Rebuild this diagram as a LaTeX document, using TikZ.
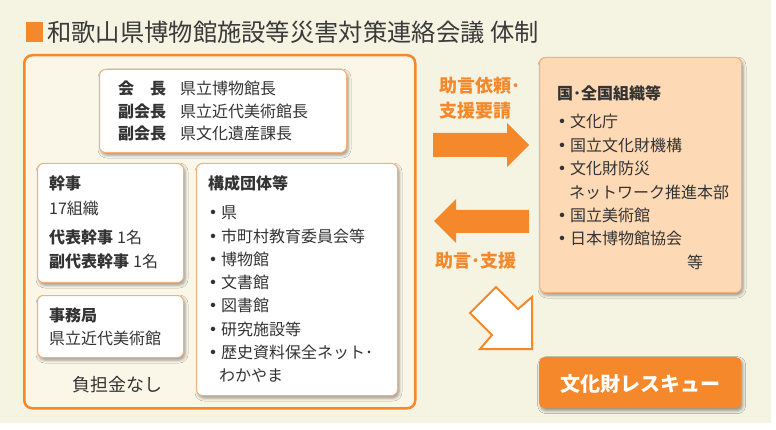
\documentclass[tikz,border=0pt]{standalone}
\usepackage{fontspec}
\setmainfont{Noto Sans CJK JP}
\usetikzlibrary{shadows.blur}
\definecolor{bg}{HTML}{F5F3E1}
\definecolor{inbg}{HTML}{FAF7E8}
\definecolor{org}{HTML}{F5882A}
\definecolor{lorg}{HTML}{F7B07A}
\definecolor{peach}{HTML}{FDD9B5}
\definecolor{txt}{HTML}{333333}
\definecolor{ttl}{HTML}{3A3A3A}
\newcommand\mybul{{\bfseries ・}}
\tikzset{
  shad/.style={blur shadow={shadow xshift=1.5pt, shadow yshift=-2.5pt, shadow blur radius=3pt, shadow opacity=40}},
  box/.style={draw=lorg, line width=1pt, fill=white, rounded corners=6pt, anchor=north west, inner sep=0pt, shad},
  t/.style={anchor=west, inner sep=0pt, text=txt, font=\fontsize{16}{16}\selectfont},
  tb/.style={t, font=\fontsize{16}{16}\selectfont\bfseries},
  lab/.style={anchor=west, inner sep=0pt, text=org, font=\fontsize{18}{18}\selectfont\bfseries},
  blockarrow/.style={fill=org, draw=none},
}
\begin{document}
\begin{tikzpicture}[x=1pt,y=-1pt]
\useasboundingbox (0,0) rectangle (776,430);
\fill[white] (0,0) rectangle (776,430);
\fill[bg] (0,0) rectangle (771,423);
% title
\node[fill=org, minimum width=17pt, minimum height=20pt, anchor=north west, inner sep=0pt] (sq) at (26,22) {};
\node[anchor=west, inner sep=0pt, text=ttl, font=\fontsize{24.3}{24.3}\selectfont] (title) at (47,32.5) {和歌山県博物館施設等災害対策連絡会議 体制};
% main frame
\node[draw=org, line width=2.5pt, fill=inbg, rounded corners=8pt, minimum width=391pt, minimum height=353pt, anchor=north west, inner sep=0pt] (main) at (23,54) {};
% top box
\node[box, minimum width=247pt, minimum height=83pt] (top) at (99,69) {};
\node[tb] (l1) at (118,88.3) {会　長};
\node[t]  (v1) at (180,88.3) {県立博物館長};
\node[tb] (l2) at (118,111) {副会長};
\node[t]  (v2) at (180,111) {県立近代美術館長};
\node[tb] (l3) at (118,133.3) {副会長};
\node[t]  (v3) at (180,133.3) {県文化遺産課長};
% kanji box
\node[box, minimum width=146pt, minimum height=119pt] (kanji) at (37,163) {};
\node[tb] (k1) at (49,183.3) {幹事};
\node[t]  (k2) at (49,208.3) {17組織};
\node[t]  (k3) at (49,237.3) {{\bfseries 代表幹事}\hspace{4pt}1名};
\node[t]  (k4) at (49,261.7) {{\bfseries 副代表幹事}\hspace{4pt}1名};
% office box
\node[box, minimum width=146pt, minimum height=62pt] (office) at (37,295) {};
\node[tb] (o1) at (49,315) {事務局};
\node[t]  (o2) at (49,338.3) {県立近代美術館};
\node[anchor=center, inner sep=0pt, text=txt, font=\fontsize{18}{18}\selectfont] (nofee) at (117,385) {負担金なし};
% member box
\node[box, minimum width=201pt, minimum height=232pt] (members) at (196,163) {};
\node[tb] (m0) at (208,183.3) {構成団体等};
\node[t] (m1) at (205,213) {\mybul 県};
\node[t] (m2) at (205,236.2) {\mybul 市町村教育委員会等};
\node[t] (m3) at (205,259.4) {\mybul 博物館};
\node[t] (m4) at (205,282.6) {\mybul 文書館};
\node[t] (m5) at (205,305.8) {\mybul 図書館};
\node[t] (m6) at (205,329) {\mybul 研究施設等};
\node[t] (m7) at (205,352.2) {\mybul 歴史資料保全ネット･};
\node[t] (m8) at (219,375.4) {わかやま};
% national box
\node[box, draw=lorg, fill=peach, minimum width=202pt, minimum height=235pt] (nat) at (539,57) {};
\node[tb] (n0) at (557,93) {国･全国組織等};
\node[t] (n1) at (554,121.7) {\mybul 文化庁};
\node[t] (n2) at (554,145) {\mybul 国立文化財機構};
\node[t] (n3) at (554,168.7) {\mybul 文化財防災};
\node[t] (n4) at (569,192) {ネットワーク推進本部};
\node[t] (n5) at (554,215.3) {\mybul 国立美術館};
\node[t] (n6) at (554,238.7) {\mybul 日本博物館協会};
\node[t] (n7) at (687,262) {等};
% rescue box
\node[fill=org, rounded corners=5pt, minimum width=202pt, minimum height=51pt, anchor=north west, inner sep=0pt, shad] (rescue) at (539,357) {};
\node[anchor=center, inner sep=0pt, text=white, font=\fontsize{20}{20}\selectfont\bfseries] (rtext) at (640,384) {文化財レスキュー};
% labels
\node[lab] (a1) at (439,85.7) {助言依頼･};
\node[lab] (a2) at (439,110.7) {支援要請};
\node[lab] (a3) at (435,260.7) {助言･支援};
% block arrows
\fill[blockarrow] (433,133) -- (507,133) -- (507,123) -- (529,145) -- (507,167) -- (507,157) -- (433,157) -- cycle;
\fill[blockarrow] (529,210) -- (456,210) -- (456,199) -- (434,221) -- (456,243) -- (456,233) -- (529,233) -- cycle;
\draw[draw=org, line width=2pt, fill=white, line join=miter] (496,287) -- (518,309) -- (532,297) -- (532,349) -- (480,349) -- (492,335) -- (470,313) -- cycle;
\end{tikzpicture}
\end{document}
